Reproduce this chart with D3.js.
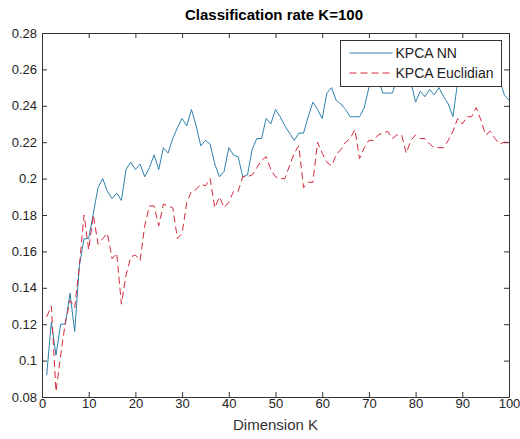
<!DOCTYPE html>
<html>
<head>
<meta charset="utf-8">
<script src="https://cdn.jsdelivr.net/npm/d3@7"></script>
<style>
  body { margin: 0; background: #fff; }
  #chart { width: 520px; height: 439px; }
  text { font-family: "Liberation Sans", Arial, sans-serif; }
</style>
</head>
<body>
<div id="chart"></div>
<script>

// dimension K (x axis)
var dims = d3.range(1, 101);

// classification rate, KPCA NN (solid blue)
var nnRate = [
  0.092, 0.121, 0.103, 0.120, 0.120, 0.137, 0.116, 0.152, 0.167, 0.167,
  0.181, 0.195, 0.200, 0.193, 0.189, 0.192, 0.188, 0.205, 0.209, 0.205,
  0.208, 0.201, 0.206, 0.213, 0.205, 0.217, 0.214, 0.222, 0.228, 0.233,
  0.229, 0.238, 0.229, 0.218, 0.221, 0.219, 0.208, 0.201, 0.204, 0.217,
  0.213, 0.212, 0.201, 0.202, 0.216, 0.222, 0.222, 0.233, 0.230, 0.238,
  0.234, 0.229, 0.225, 0.221, 0.225, 0.225, 0.234, 0.242, 0.238, 0.233,
  0.247, 0.250, 0.243, 0.241, 0.238, 0.234, 0.234, 0.234, 0.239, 0.250,
  0.256, 0.254, 0.247, 0.247, 0.247, 0.254, 0.257, 0.255, 0.253, 0.242,
  0.248, 0.245, 0.249, 0.246, 0.250, 0.245, 0.241, 0.234, 0.253, 0.257,
  0.255, 0.258, 0.256, 0.259, 0.257, 0.255, 0.258, 0.254, 0.246, 0.243
];

// classification rate, KPCA Euclidian (dashed red)
var euclidRate = [
  0.124, 0.130, 0.083, 0.103, 0.121, 0.133, 0.129, 0.152, 0.180, 0.161,
  0.180, 0.164, 0.167, 0.170, 0.156, 0.159, 0.131, 0.147, 0.157, 0.158,
  0.155, 0.174, 0.185, 0.185, 0.174, 0.186, 0.185, 0.184, 0.167, 0.170,
  0.187, 0.193, 0.194, 0.197, 0.196, 0.200, 0.184, 0.190, 0.184, 0.187,
  0.193, 0.193, 0.201, 0.201, 0.202, 0.206, 0.210, 0.212, 0.205, 0.201,
  0.200, 0.200, 0.207, 0.214, 0.218, 0.195, 0.198, 0.198, 0.220, 0.214,
  0.209, 0.207, 0.213, 0.216, 0.220, 0.222, 0.227, 0.211, 0.217, 0.221,
  0.221, 0.224, 0.225, 0.226, 0.222, 0.224, 0.224, 0.214, 0.221, 0.224,
  0.222, 0.222, 0.219, 0.217, 0.217, 0.217, 0.221, 0.226, 0.233, 0.230,
  0.234, 0.234, 0.239, 0.232, 0.224, 0.226, 0.222, 0.219, 0.220, 0.220
];

var xTicks = [0, 10, 20, 30, 40, 50, 60, 70, 80, 90, 100];
var yTicks = [0.08, 0.1, 0.12, 0.14, 0.16, 0.18, 0.2, 0.22, 0.24, 0.26, 0.28];

var seriesNames = ["KPCA NN", "KPCA Euclidian"];


RateChart = function(_parentElement) {
  this.parentElement = _parentElement;
  this.initVis();
};

RateChart.prototype.initVis = function() {
  var vis = this;

  vis.margin = {top: 33, right: 11, bottom: 42, left: 42};
  vis.width = 520 - vis.margin.left - vis.margin.right;
  vis.height = 439 - vis.margin.top - vis.margin.bottom;

  vis.svg = d3.select(vis.parentElement).append("svg")
    .attr("width", 520)
    .attr("height", 439);

  vis.g = vis.svg.append("g")
    .attr("transform", "translate(" + vis.margin.left + "," + vis.margin.top + ")");

  vis.x = d3.scaleLinear().domain([0, 100]).range([0, vis.width]);
  vis.y = d3.scaleLinear().domain([0.08, 0.28]).range([vis.height, 0]);

  vis.wrangleData();
};

RateChart.prototype.wrangleData = function() {
  var vis = this;

  vis.series = [
    {name: seriesNames[0], color: "#2e82ad", dash: null,
      values: dims.map(function(d, i) { return {k: d, rate: nnRate[i]}; })},
    {name: seriesNames[1], color: "#d42a3a", dash: "7,4",
      values: dims.map(function(d, i) { return {k: d, rate: euclidRate[i]}; })}
  ];

  vis.createVis();
};

RateChart.prototype.createVis = function() {
  var vis = this;

  var fmt = function(d) { return String(+d.toFixed(2)); };

  // axes, ticks pointing inwards on all four sides
  vis.g.append("g")
    .attr("class", "axis")
    .attr("transform", "translate(0," + vis.height + ")")
    .call(d3.axisBottom(vis.x).tickValues(xTicks).tickSizeInner(-5).tickSizeOuter(0).tickPadding(2));

  vis.g.append("g")
    .attr("class", "axis")
    .call(d3.axisTop(vis.x).tickValues(xTicks).tickSizeInner(-5).tickSizeOuter(0).tickFormat(""));

  vis.g.append("g")
    .attr("class", "axis")
    .call(d3.axisLeft(vis.y).tickValues(yTicks).tickSizeInner(-5).tickSizeOuter(0).tickPadding(5).tickFormat(fmt));

  vis.g.append("g")
    .attr("class", "axis")
    .attr("transform", "translate(" + vis.width + ",0)")
    .call(d3.axisRight(vis.y).tickValues(yTicks).tickSizeInner(-5).tickSizeOuter(0).tickFormat(""));

  vis.g.selectAll(".axis path, .axis line").attr("stroke", "#333");
  vis.g.selectAll(".axis text")
    .attr("fill", "#222")
    .style("font-size", "13px")
    .style("font-family", "'Liberation Sans', Arial, sans-serif");

  // lines
  var line = d3.line()
    .x(function(d) { return vis.x(d.k); })
    .y(function(d) { return vis.y(d.rate); });

  vis.g.selectAll(".series")
    .data(vis.series)
    .enter().append("path")
    .attr("class", "series")
    .attr("d", function(d) { return line(d.values); })
    .attr("fill", "none")
    .attr("stroke", function(d) { return d.color; })
    .attr("stroke-width", 1)
    .attr("stroke-dasharray", function(d) { return d.dash; });

  // legend
  var legend = vis.svg.append("g")
    .attr("transform", "translate(340.5,40.5)");

  legend.append("rect")
    .attr("width", 161)
    .attr("height", 46)
    .attr("fill", "#fff")
    .attr("stroke", "#333");

  var item = legend.selectAll(".item")
    .data(vis.series)
    .enter().append("g")
    .attr("class", "item")
    .attr("transform", function(d, i) { return "translate(0," + (12.5 + i * 20) + ")"; });

  item.append("line")
    .attr("x1", 9).attr("x2", 52)
    .attr("stroke", function(d) { return d.color; })
    .attr("stroke-dasharray", function(d) { return d.dash; });

  item.append("text")
    .attr("x", 55)
    .attr("dy", "0.36em")
    .attr("fill", "#222")
    .style("font-size", "14px")
    .text(function(d) { return d.name; });

  // title and x label
  vis.svg.append("text")
    .attr("x", 274)
    .attr("y", 20)
    .attr("text-anchor", "middle")
    .style("font-size", "15px")
    .style("font-weight", "bold")
    .text("Classification rate K=100");

  vis.svg.append("text")
    .attr("x", vis.margin.left + vis.width / 2)
    .attr("y", 430)
    .attr("text-anchor", "middle")
    .attr("fill", "#333")
    .style("font-size", "15px")
    .text("Dimension K");
};

var chart = new RateChart("#chart");

</script>
</body>
</html>
